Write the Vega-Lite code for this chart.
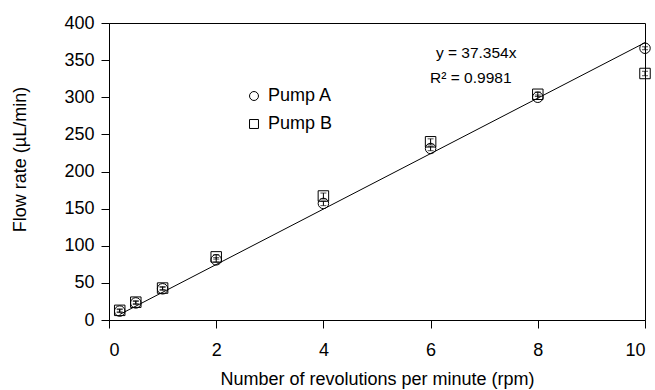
{
  "$schema": "https://vega.github.io/schema/vega-lite/v6.json",
  "autosize": {"type": "none"},
  "padding": {"left": 109, "top": 23, "right": 10, "bottom": 70},
  "width": 536,
  "height": 297,
  "background": "white",
  "config": {
    "font": "Liberation Sans",
    "view": {"stroke": "black", "strokeWidth": 1},
    "axis": {
      "grid": false,
      "domainColor": "black",
      "tickColor": "black",
      "labelColor": "black",
      "titleColor": "black",
      "labelFont": "Liberation Sans",
      "titleFont": "Liberation Sans",
      "labelFontSize": 18,
      "titleFontSize": 18,
      "titleFontWeight": "normal",
      "tickSize": 8
    },
    "legend": {
      "labelFont": "Liberation Sans",
      "labelFontSize": 18,
      "labelColor": "black"
    }
  },
  "datasets": {
    "pts": [
      {"rpm": 0.2, "flow": 12, "lo": 10, "hi": 14, "pump": "Pump A"},
      {"rpm": 0.5, "flow": 23, "lo": 21, "hi": 25, "pump": "Pump A"},
      {"rpm": 1, "flow": 42, "lo": 40, "hi": 44, "pump": "Pump A"},
      {"rpm": 2, "flow": 81, "lo": 78, "hi": 84, "pump": "Pump A"},
      {"rpm": 4, "flow": 157, "lo": 154, "hi": 160, "pump": "Pump A"},
      {"rpm": 6, "flow": 231, "lo": 228, "hi": 234, "pump": "Pump A"},
      {"rpm": 8, "flow": 300, "lo": 297, "hi": 303, "pump": "Pump A"},
      {"rpm": 10, "flow": 366, "lo": 364, "hi": 368, "pump": "Pump A"},
      {"rpm": 0.2, "flow": 13, "lo": 11, "hi": 15, "pump": "Pump B"},
      {"rpm": 0.5, "flow": 24, "lo": 22, "hi": 26, "pump": "Pump B"},
      {"rpm": 1, "flow": 43, "lo": 41, "hi": 45, "pump": "Pump B"},
      {"rpm": 2, "flow": 85, "lo": 82, "hi": 88, "pump": "Pump B"},
      {"rpm": 4, "flow": 167, "lo": 163, "hi": 171, "pump": "Pump B"},
      {"rpm": 6, "flow": 240, "lo": 236, "hi": 244, "pump": "Pump B"},
      {"rpm": 8, "flow": 304, "lo": 301, "hi": 307, "pump": "Pump B"},
      {"rpm": 10, "flow": 332, "lo": 329, "hi": 335, "pump": "Pump B"}
    ],
    "fit": [
      {"rpm": 0.2, "flow": 7.47},
      {"rpm": 10, "flow": 373.54}
    ],
    "notes": [
      {"rpm": 6.85, "flow": 360, "label": "y = 37.354x"},
      {"rpm": 6.75, "flow": 326, "label": "R² = 0.9981"}
    ]
  },
  "encoding": {
    "x": {
      "field": "rpm", "type": "quantitative",
      "scale": {"domain": [0, 10], "nice": false, "zero": false},
      "axis": {"values": [0, 2, 4, 6, 8, 10], "title": "Number of revolutions per minute (rpm)", "labelPadding": 13, "titlePadding": 11}
    },
    "y": {
      "field": "flow", "type": "quantitative",
      "scale": {"domain": [0, 400], "nice": false},
      "axis": {"values": [0, 50, 100, 150, 200, 250, 300, 350, 400], "title": "Flow rate (µL/min)", "labelPadding": 7, "titlePadding": 34, "titleY": 136}
    }
  },
  "layer": [
    {
      "data": {"name": "fit"},
      "mark": {"type": "line", "color": "black", "strokeWidth": 1}
    },
    {
      "data": {"name": "pts"},
      "mark": {"type": "errorbar", "ticks": {"size": 6, "color": "black"}, "rule": {"color": "black", "strokeWidth": 1}},
      "encoding": {
        "y": {"field": "lo", "type": "quantitative"},
        "y2": {"field": "hi"},
        "detail": {"field": "pump"}
      }
    },
    {
      "data": {"name": "pts"},
      "mark": {"type": "point", "filled": false, "stroke": "black", "strokeWidth": 1, "size": 110, "opacity": 1},
      "encoding": {
        "shape": {
          "field": "pump", "type": "nominal",
          "scale": {"domain": ["Pump A", "Pump B"], "range": ["circle", "square"]},
          "legend": {
            "title": null,
            "orient": "none",
            "legendX": 136,
            "legendY": 64,
            "symbolSize": 80,
            "symbolStrokeColor": "black",
            "symbolStrokeWidth": 1,
            "rowPadding": 10,
            "labelOffset": 5
          }
        }
      }
    },
    {
      "data": {"name": "notes"},
      "mark": {"type": "text", "fontSize": 15.5, "color": "black", "align": "center", "baseline": "middle", "font": "Liberation Sans"},
      "encoding": {"text": {"field": "label"}}
    }
  ]
}
